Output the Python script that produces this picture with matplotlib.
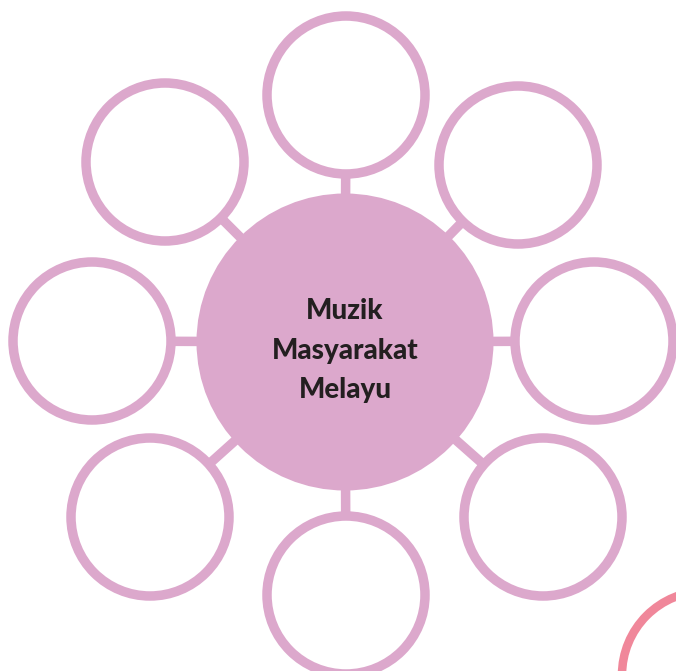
import matplotlib
matplotlib.use("Agg")
import matplotlib.pyplot as plt
from matplotlib.patches import Circle

# Content
center_lines = ["Muzik", "Masyarakat", "Melayu"]
outer_labels = ["", "", "", "", "", "", "", ""]  # eight empty bubbles

# Layout (pixel coords)
W, H = 676, 671
main_c = (345, 342)
main_r = 148.5
outer_centers = [(346, 95), (518, 165), (594, 341), (543, 517),
                 (346, 595), (150, 517), (92, 341), (165, 162)]
outer_r = 79
ring_color = "#dca8cc"
arc_color = "#f0879a"
text_color = "#231f20"
lw_pt = 9.5 * 72 / 100

fig = plt.figure(figsize=(W / 100, H / 100), dpi=100)
ax = fig.add_axes([0, 0, 1, 1])
ax.set_xlim(0, W)
ax.set_ylim(H, 0)
ax.set_aspect("equal")
ax.axis("off")

# connectors
for (x, y) in outer_centers:
    ax.plot([main_c[0], x], [main_c[1], y], color=ring_color, lw=lw_pt,
            solid_capstyle="butt", zorder=1)

# main circle
ax.add_patch(Circle(main_c, main_r, facecolor=ring_color, edgecolor="none", zorder=2))

# outer rings
for (x, y), lab in zip(outer_centers, outer_labels):
    ax.add_patch(Circle((x, y), outer_r, facecolor="white", edgecolor=ring_color,
                        lw=lw_pt, zorder=3))
    if lab:
        ax.text(x, y, lab, ha="center", va="center", zorder=4)

# decorative arc bottom-right
ax.add_patch(Circle((706, 675), 84, facecolor="none", edgecolor=arc_color,
                    lw=8.5 * 72 / 100, zorder=3))

# center text
ys = [311, 351, 390]
for t, y in zip(center_lines, ys):
    ax.text(main_c[0], y, t, ha="center", va="center", fontsize=20,
            fontweight=900, family="Lato", color=text_color, zorder=5)

fig.savefig("out.png", dpi=100)
